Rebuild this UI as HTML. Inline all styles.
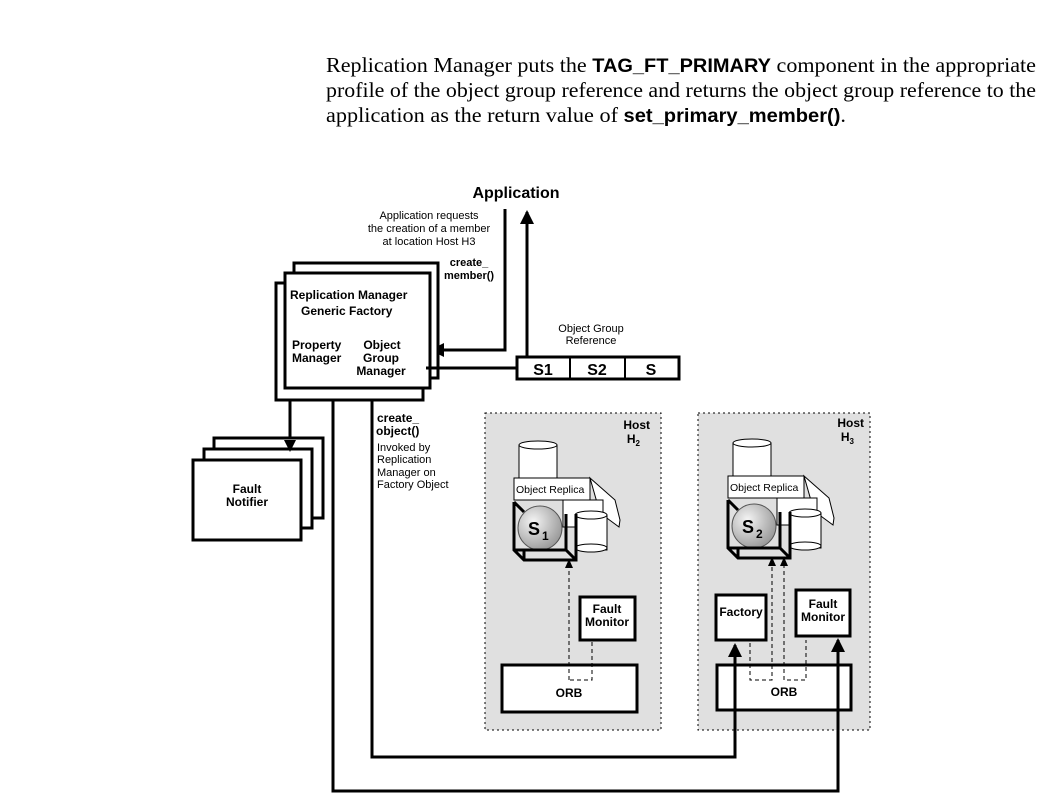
<!DOCTYPE html>
<html><head><meta charset="utf-8"><style>
html,body{margin:0;padding:0;background:#fff}
svg{display:block}
.s{font-family:"Liberation Serif",serif;font-size:21px}
.b{font-family:"Liberation Sans",sans-serif;font-weight:bold}
.n{font-family:"Liberation Sans",sans-serif}
</style></head><body>
<svg width="1053" height="794" viewBox="0 0 1053 794" xmlns="http://www.w3.org/2000/svg">
<defs>
<marker id="A" markerWidth="14" markerHeight="14" refX="12" refY="7" orient="auto" markerUnits="userSpaceOnUse"><path d="M0,0 L14,7 L0,14 z" fill="#000"/></marker>
<radialGradient id="g" cx="0.35" cy="0.35" r="0.7"><stop offset="0" stop-color="#f4f4f4"/><stop offset="1" stop-color="#999"/></radialGradient>
</defs>
<text class="s" x="326" y="72" textLength="710" lengthAdjust="spacingAndGlyphs">Replication Manager puts the <tspan class="b" font-size="19">TAG_FT_PRIMARY</tspan> component in the appropriate</text>
<text class="s" x="326" y="97" textLength="710" lengthAdjust="spacingAndGlyphs">profile of the object group reference and returns the object group reference to the</text>
<text class="s" x="326" y="122" textLength="520" lengthAdjust="spacingAndGlyphs">application as the return value of <tspan class="b" font-size="19">set_primary_member()</tspan>.</text>

<!-- Application -->
<text class="b" x="516" y="198" font-size="16" text-anchor="middle">Application</text>
<text class="n" x="429" y="219" font-size="11" text-anchor="middle">Application requests</text>
<text class="n" x="429" y="232" font-size="11" text-anchor="middle">the creation of a member</text>
<text class="n" x="429" y="245" font-size="11" text-anchor="middle">at location Host H3</text>
<text class="b" x="469" y="266" font-size="11" text-anchor="middle">create_</text>
<text class="b" x="469" y="279" font-size="11" text-anchor="middle">member()</text>
<line x1="527" y1="357" x2="527" y2="212" stroke="#000" stroke-width="3" marker-end="url(#A)"/>
<polyline points="505,209 505,350 432,350" fill="none" stroke="#000" stroke-width="3" marker-end="url(#A)"/>

<!-- RM boxes -->
<rect x="294" y="263" width="144" height="115" fill="#fff" stroke="#000" stroke-width="3"/>
<rect x="276" y="283" width="147" height="117" fill="#fff" stroke="#000" stroke-width="3"/>
<rect x="285" y="273" width="145" height="115" fill="#fff" stroke="#000" stroke-width="3"/>
<text class="b" x="290" y="299" font-size="12">Replication Manager</text>
<text class="b" x="301" y="315" font-size="12">Generic Factory</text>
<text class="b" x="292" y="349" font-size="12">Property</text>
<text class="b" x="292" y="362" font-size="12">Manager</text>
<text class="b" x="382" y="349" font-size="12" text-anchor="middle">Object</text>
<text class="b" x="381" y="362" font-size="12" text-anchor="middle">Group</text>
<text class="b" x="381" y="375" font-size="12" text-anchor="middle">Manager</text>
<line x1="426" y1="368" x2="517" y2="368" stroke="#000" stroke-width="3"/>

<!-- Object group reference -->
<text class="n" x="591" y="332" font-size="11" text-anchor="middle">Object Group</text>
<text class="n" x="591" y="344" font-size="11" text-anchor="middle">Reference</text>
<rect x="517" y="357" width="162" height="22" fill="#fff" stroke="#000" stroke-width="3"/>
<line x1="570" y1="357" x2="570" y2="379" stroke="#000" stroke-width="2"/>
<line x1="625" y1="357" x2="625" y2="379" stroke="#000" stroke-width="2"/>
<text class="b" x="543" y="375" font-size="16" text-anchor="middle">S1</text>
<text class="b" x="597" y="375" font-size="16" text-anchor="middle">S2</text>
<text class="b" x="651" y="375" font-size="16" text-anchor="middle">S</text>

<!-- Fault notifier -->
<line x1="290" y1="400" x2="290" y2="460" stroke="#000" stroke-width="3"/>
<rect x="214" y="438" width="109" height="80" fill="#fff" stroke="#000" stroke-width="3"/>
<rect x="204" y="449" width="108" height="79" fill="#fff" stroke="#000" stroke-width="3"/>
<rect x="193" y="460" width="108" height="80" fill="#fff" stroke="#000" stroke-width="3"/>
<path d="M284,440 L296,440 L290,452 z" fill="#000"/>
<text class="b" x="247" y="493" font-size="12" text-anchor="middle">Fault</text>
<text class="b" x="247" y="506" font-size="12" text-anchor="middle">Notifier</text>

<text class="b" x="377" y="422" font-size="12">create_</text>
<text class="b" x="376" y="435" font-size="12">object()</text>
<text class="n" x="377" y="451" font-size="11">Invoked by</text>
<text class="n" x="377" y="463" font-size="11">Replication</text>
<text class="n" x="377" y="476" font-size="11">Manager on</text>
<text class="n" x="377" y="488" font-size="11">Factory Object</text>

<!-- Hosts -->
<rect x="485" y="413" width="176" height="317" fill="#e0e0e0" stroke="#000" stroke-dasharray="2,3"/>
<rect x="698" y="413" width="172" height="317" fill="#e0e0e0" stroke="#000" stroke-dasharray="2,3"/>
<text class="b" x="650" y="429" font-size="12" text-anchor="end">Host</text>
<text class="b" x="640" y="443" font-size="12" text-anchor="end">H<tspan font-size="8" dy="3">2</tspan></text>
<text class="b" x="864" y="427" font-size="12" text-anchor="end">Host</text>
<text class="b" x="854" y="441" font-size="12" text-anchor="end">H<tspan font-size="8" dy="3">3</tspan></text>

<g id="rep">
<rect x="519" y="445" width="38" height="35" fill="#fff" stroke="#000"/>
<ellipse cx="538" cy="445" rx="19" ry="4" fill="#fff" stroke="#000"/>
<path d="M590,478 L615,500 L620,520 L619,527 L600,513 Z" fill="#fff" stroke="#000"/>
<rect x="563" y="500" width="40" height="27" fill="#fff" stroke="#000"/>
<rect x="514" y="478" width="76" height="22" fill="#fff" stroke="#000"/>
<text class="n" x="516" y="493" font-size="10.5">Object Replica</text>
<rect x="575" y="515" width="32" height="35" fill="#fff" stroke="#000"/>
<ellipse cx="591" cy="515" rx="16" ry="4" fill="#fff" stroke="#000"/>
<ellipse cx="591" cy="548" rx="16" ry="4" fill="#fff" stroke="#000"/>
<circle cx="540" cy="528" r="22" fill="url(#g)" stroke="#555"/>
<path d="M514,502 L514,550 L524,560 L576,560 L576,514 M514,550 L566,550 L576,560 M566,514 L566,550 M514,502 L524,512 M524,550 L524,560" fill="none" stroke="#000" stroke-width="3"/>
<text class="b" x="528" y="535" font-size="18">S</text>
</g>
<text class="b" x="542" y="540" font-size="12">1</text>
<use href="#rep" x="214" y="-2"/>
<text class="b" x="756" y="538" font-size="12">2</text>

<!-- H2 lower -->
<rect x="580" y="597" width="55" height="43" fill="#fff" stroke="#000" stroke-width="3"/>
<text class="b" x="607" y="613" font-size="12" text-anchor="middle">Fault</text>
<text class="b" x="607" y="626" font-size="12" text-anchor="middle">Monitor</text>
<rect x="502" y="665" width="135" height="47" fill="#fff" stroke="#000" stroke-width="3"/>
<text class="b" x="569" y="697" font-size="12" text-anchor="middle">ORB</text>
<path d="M569,680 L569,566 M592,642 L592,680 L569,680" fill="none" stroke="#000" stroke-dasharray="4,3"/>
<path d="M565,568 L573,568 L569,559 z" fill="#000"/>

<!-- H3 lower -->
<rect x="716" y="595" width="50" height="45" fill="#fff" stroke="#000" stroke-width="3"/>
<text class="b" x="741" y="616" font-size="12" text-anchor="middle">Factory</text>
<rect x="796" y="590" width="54" height="46" fill="#fff" stroke="#000" stroke-width="3"/>
<text class="b" x="823" y="608" font-size="12" text-anchor="middle">Fault</text>
<text class="b" x="823" y="621" font-size="12" text-anchor="middle">Monitor</text>
<rect x="717" y="665" width="134" height="45" fill="#fff" stroke="#000" stroke-width="3"/>
<text class="b" x="784" y="696" font-size="12" text-anchor="middle">ORB</text>
<path d="M750,643 L750,680 L772,680 L772,564 M784,564 L784,680 L806,680 L806,640" fill="none" stroke="#000" stroke-dasharray="4,3"/>
<path d="M768,566 L776,566 L772,557 z M780,566 L788,566 L784,557 z" fill="#000"/>

<!-- long connectors -->
<polyline points="372,400 372,757 735,757 735,645" fill="none" stroke="#000" stroke-width="3" marker-end="url(#A)"/>
<polyline points="333,400 333,791 838,791 838,640" fill="none" stroke="#000" stroke-width="3" marker-end="url(#A)"/>
</svg>
</body></html>
